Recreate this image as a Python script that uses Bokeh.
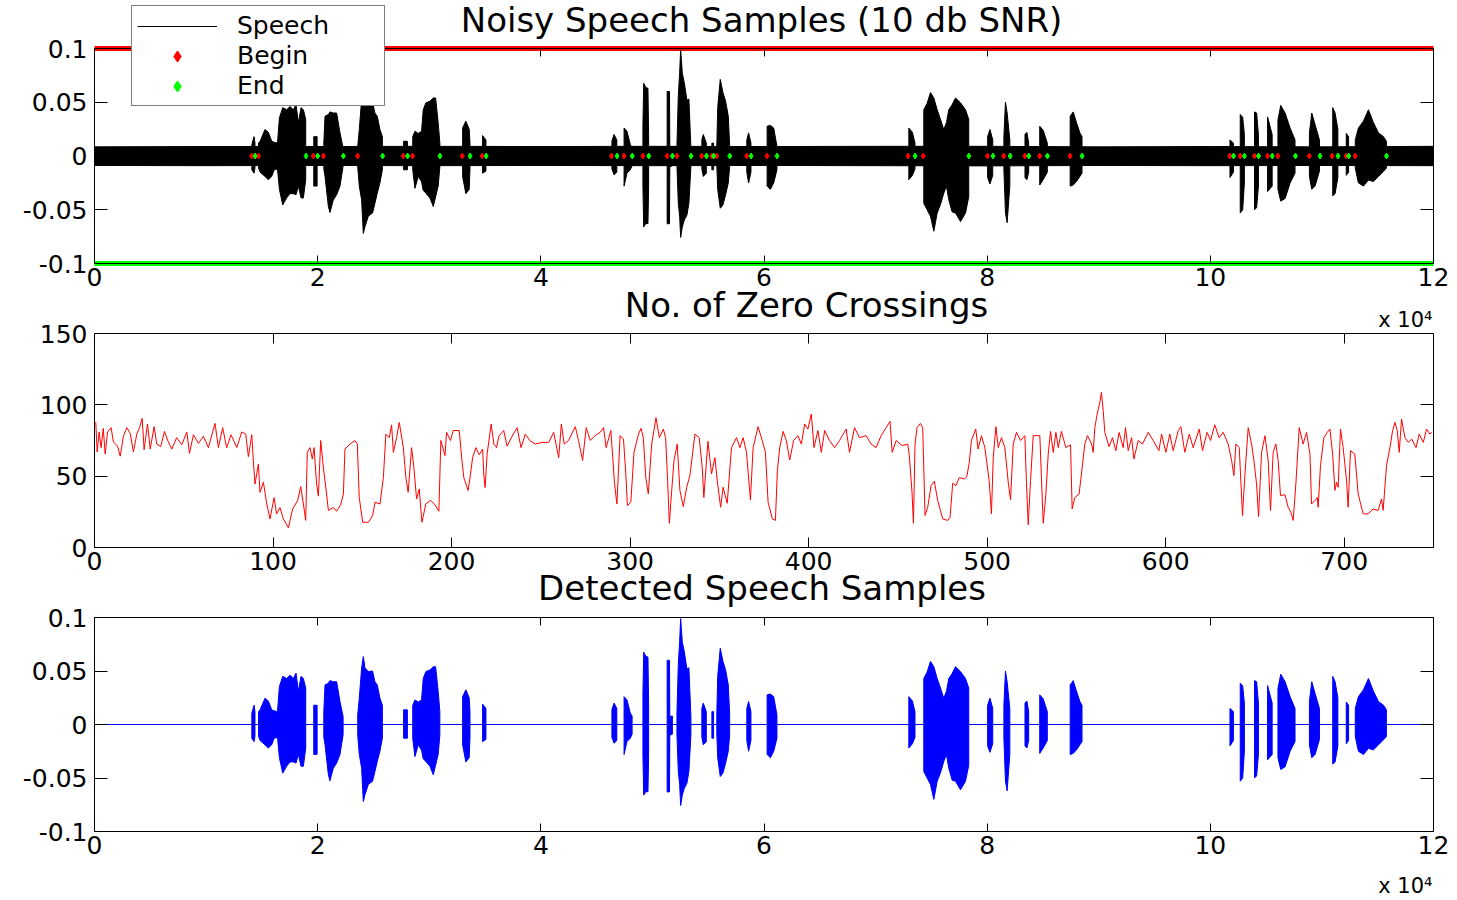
from bokeh.plotting import figure
from bokeh.models import Range1d, LinearAxis, FixedTicker, Legend, LegendItem, Label
from bokeh.embed import file_html
from bokeh.resources import INLINE

FONT = "DejaVu Sans"

# ---------------- data ----------------
seg_begin = [14090, 14690, 19610, 20510, 23580, 27670, 28510, 32960, 34750,
             46330, 47450, 49140, 51310, 52200, 54420, 55320, 55760, 58450, 60270,
             72900, 74270, 80030, 81480, 83380, 84700, 87430,
             101750, 102670, 103950, 105120, 106050, 108870, 110920, 112170, 112980]
seg_end = [14390, 18960, 20000, 22300, 25820, 28060, 30960, 33660, 35100,
           46830, 48190, 49670, 51800, 53460, 54840, 55490, 56930, 58840, 61170,
           73540, 78360, 80520, 82060, 83730, 85400, 88510,
           102080, 103055, 104320, 105550, 107630, 109830, 111440, 112400, 115790]

env_x = [14100, 14300, 14380,
         14700, 14840, 15280, 15580, 15880, 16090, 16400, 16570, 16870, 17220, 17520, 17820, 18060, 18270, 18510, 18720, 18930,
         19650, 19950,
         20550, 20660, 20960, 21100, 21400, 21700, 22000, 22280,
         23590, 23730, 23940, 24090, 24240, 24540, 24920, 25130, 25340, 25580, 25800,
         27700, 28040,
         28520, 28720, 29015, 29310, 29460, 29700, 30060, 30360, 30570, 30800, 30950,
         32990, 33280, 33580, 33650,
         34780, 35080,
         46370, 46560, 46810,
         47460, 47720, 48020, 48180,
         49150, 49220, 49420, 49600, 49660,
         51320, 51530, 51560, 51790,
         52200, 52320, 52440, 52530, 52680, 52860, 53090, 53270, 53450,
         54430, 54560, 54830,
         55330, 55480,
         55770, 55850, 56080, 56320, 56560, 56800, 56920,
         58460, 58620, 58830,
         60280, 60570, 60870, 61160,
         72980, 73300, 73530,
         74320, 74620, 74920, 75220, 75520, 75820, 76110, 76350, 76560, 76860, 77160, 77610, 78060, 78350,
         80040, 80250, 80500,
         81500, 81640, 81790, 82030,
         83390, 83560, 83720,
         84710, 85020, 85390,
         87440, 87710, 88010, 88310, 88500,
         101760, 102070,
         102680, 102900, 103050,
         103960, 104150, 104310,
         105130, 105540,
         106060, 106310, 106700, 107150, 107590,
         108880, 109090, 109390, 109780,
         110970, 111180, 111430,
         112180, 112390,
         112990, 113270, 113720, 114170, 114620, 115070, 115520, 115780]
env_hi = [0.0106, 0.018, 0.012,
          0.012, 0.0137, 0.0246, 0.022, 0.0137, 0.0128, 0.012, 0.0355, 0.045, 0.043, 0.046, 0.043, 0.048, 0.031, 0.045, 0.043, 0.034,
          0.018, 0.018,
          0.012, 0.037, 0.0386, 0.041, 0.040, 0.040, 0.0215, 0.0075,
          0.009, 0.0246, 0.0527, 0.0635, 0.053, 0.0495, 0.050, 0.040, 0.037, 0.0246, 0.018,
          0.0137, 0.0137,
          0.018, 0.023, 0.021, 0.023, 0.043, 0.0495, 0.051, 0.054, 0.054, 0.031, 0.012,
          0.026, 0.0324, 0.025, 0.012,
          0.019, 0.015,
          0.014, 0.020, 0.015,
          0.026, 0.023, 0.0106, 0.008,
          0.029, 0.0676, 0.0636, 0.063, 0.020,
          0.060, 0.060, 0.0075, 0.008,
          0.0106, 0.056, 0.0776, 0.099, 0.077, 0.068, 0.052, 0.053, 0.0075,
          0.015, 0.020, 0.012,
          0.012, 0.012,
          0.009, 0.045, 0.0713, 0.059, 0.051, 0.037, 0.010,
          0.015, 0.0215, 0.012,
          0.0277, 0.0285, 0.026, 0.009,
          0.026, 0.022, 0.012,
          0.043, 0.049, 0.059, 0.054, 0.043, 0.034, 0.0246, 0.031, 0.043, 0.0477, 0.054, 0.0495, 0.043, 0.034,
          0.018, 0.0246, 0.015,
          0.018, 0.050, 0.040, 0.015,
          0.020, 0.022, 0.012,
          0.0277, 0.024, 0.012,
          0.037, 0.041, 0.031, 0.0215, 0.018,
          0.015, 0.012,
          0.0386, 0.036, 0.020,
          0.041, 0.040, 0.020,
          0.0364, 0.020,
          0.0336, 0.047, 0.040, 0.026, 0.015,
          0.0215, 0.040, 0.029, 0.015,
          0.045, 0.040, 0.025,
          0.021, 0.018,
          0.015, 0.026, 0.0324, 0.043, 0.031, 0.0215, 0.018, 0.0137]
env_lo = [-0.0128, -0.016, -0.011,
          -0.011, -0.015, -0.019, -0.022, -0.019, -0.013, -0.012, -0.031, -0.0455, -0.039, -0.035, -0.035, -0.036, -0.028, -0.039, -0.039, -0.022,
          -0.028, -0.028,
          -0.012, -0.019, -0.047, -0.0526, -0.041, -0.036, -0.028, -0.0096,
          -0.010, -0.028, -0.041, -0.072, -0.0657, -0.056, -0.053, -0.044, -0.0346, -0.025, -0.0128,
          -0.0128, -0.0128,
          -0.013, -0.030, -0.019, -0.024, -0.032, -0.0346, -0.039, -0.047, -0.038, -0.028, -0.010,
          -0.019, -0.035, -0.031, -0.012,
          -0.016, -0.014,
          -0.012, -0.0175, -0.015,
          -0.028, -0.016, -0.0128, -0.009,
          -0.028, -0.066, -0.0626, -0.063, -0.028,
          -0.063, -0.063, -0.010, -0.009,
          -0.0097, -0.044, -0.056, -0.0757, -0.066, -0.0595, -0.055, -0.044, -0.0097,
          -0.012, -0.019, -0.016,
          -0.0128, -0.0128,
          -0.008, -0.031, -0.0486, -0.0455, -0.036, -0.025, -0.010,
          -0.015, -0.025, -0.015,
          -0.028, -0.031, -0.025, -0.0128,
          -0.022, -0.018, -0.012,
          -0.044, -0.050, -0.056, -0.070, -0.053, -0.045, -0.0346, -0.028, -0.0408, -0.052, -0.053, -0.061, -0.053, -0.038,
          -0.020, -0.026, -0.018,
          -0.0128, -0.053, -0.062, -0.028,
          -0.020, -0.022, -0.015,
          -0.027, -0.022, -0.015,
          -0.028, -0.027, -0.0237, -0.019, -0.0159,
          -0.020, -0.015,
          -0.053, -0.050, -0.025,
          -0.050, -0.048, -0.028,
          -0.033, -0.028,
          -0.031, -0.042, -0.0395, -0.025, -0.016,
          -0.019, -0.031, -0.028, -0.014,
          -0.037, -0.035, -0.020,
          -0.018, -0.015,
          -0.0112, -0.025, -0.028, -0.0224, -0.0237, -0.019, -0.0143, -0.0112]

noise_x = [0, 10000, 20000, 30000, 40000, 50000, 60000, 70000, 80000, 90000, 100000, 110000, 120000]
noise_hi = [0.0085, 0.0088, 0.0088, 0.009, 0.0088, 0.009, 0.0088, 0.009, 0.009, 0.0085, 0.0088, 0.0085, 0.009]
noise_lo = [-0.0088, -0.009, -0.0088, -0.009, -0.0088, -0.009, -0.0088, -0.009, -0.0092, -0.0088, -0.009, -0.0088, -0.009]

zc_frame = [0.7, 1.5, 2.6, 3.7, 4.9, 6, 7.3, 9.3, 10.6, 12.9, 14.4, 16.2, 18.1, 20, 21.8, 23.7, 25.2, 26.7, 27.8, 29.7,
            31.2, 33.4, 34.9, 37.1, 39.2, 41, 43.3, 46, 48.9, 51.7, 53.2, 55.4, 58.2, 61, 63.8, 67.5, 69.4, 71.8, 74, 76.5,
            79.7, 82.5, 84.7, 86.2, 88.1, 89, 89.9, 91.8, 92.7, 94.6, 96.5, 98.3, 100.6, 102, 103.9, 105.8, 108.6, 111, 113.8, 115.5,
            117, 118.3, 119.2, 120.7, 122, 123, 124.4, 125.4, 126.7, 128.2, 130, 131, 133.8, 135.6, 137.9, 139.4, 140.3, 143.1, 145.9, 147.2,
            148.3, 150.2, 153.4, 155.8, 157.1, 159.9, 161.8, 163.2, 165.1, 166.4, 167.4, 169.2, 170.7, 173, 174.4, 175.7, 177.6, 178.9, 180.4, 181.9,
            183.4, 185.6, 188.2, 190.7, 192.9, 194, 196.3, 197.2, 199.4, 200.9, 204.3, 205.8, 206.9, 209.3, 210.6, 211.8, 213.6, 215.5, 217.4, 218.1,
            218.8, 219.9, 222.2, 223.7, 225.2, 226.5, 229.2, 231.1, 233.9, 236.7, 238.9, 241.3, 243.8, 246.9, 250.7, 254.4, 257.2, 260, 261.5, 263.1,
            265.5, 269.3, 271.1, 273.4, 275.4, 277.7, 280.4, 283.2, 285.1, 286.6, 289.2, 290.3, 291.2, 292.6, 294.4, 296.3, 297.6, 298.5, 300.4, 302.2,
            304.7, 306.1, 307.4, 308.8, 310.2, 312.1, 314.5, 316.4, 318.6, 319.9, 321, 322, 323.3, 324.6, 326.4, 327.9, 329.8, 331.7, 333.5, 336.3,
            338.7, 340.4, 341.3, 343.6, 345.6, 347.5, 348.8, 350.7, 352.1, 354.4, 356.8, 359.6, 361.5, 363.3, 365.2, 367.4, 368.9, 371.7, 374, 375.8,
            377.3, 379.7, 381.4, 382.5, 383.8, 385.7, 387.5, 389.4, 391.6, 394, 395.9, 397.8, 399.6, 401.5, 403, 405.2, 407.1, 409, 411.7, 414.5,
            417.3, 421, 422.9, 425.7, 428.5, 432.2, 435, 437.8, 440.6, 443.4, 445.6, 446.8, 449, 452.4, 455.5, 456.4, 457.9, 458.7, 459.6, 460.7,
            462.6, 463.9, 465.2, 466.7, 468.6, 470.4, 472.3, 475.1, 477.9, 479.2, 480.7, 482.5, 484.4, 487.2, 488.6, 490, 491.2, 493.6, 494.9, 496.8,
            498.7, 501.1, 502.4, 503.4, 504.9, 506.2, 508, 509.9, 511.8, 513.1, 514.6, 516.4, 518.7, 521.1, 522, 523, 524.3, 525.8, 529.5, 530.4,
            531.4, 532.9, 534.2, 535.5, 537, 538.5, 539.8, 541.6, 544.1, 546.7, 547.6, 549.1, 551.5, 552.8, 554.7, 556.2, 558.5, 559.4, 560.3, 561.6,
            563.1, 564, 565, 565.9, 568.3, 570.2, 572.1, 573.9, 576.2, 577.5, 579, 580.9, 582.2, 584.6, 587, 590.2, 593, 596.2, 597.7, 600.1,
            602.3, 604.2, 607, 608.5, 610.7, 613.2, 615.4, 618.8, 620.6, 623.2, 625.1, 627.5, 629.9, 632.2, 635, 636.9, 638.2, 639.3, 641.2, 643,
            644.4, 646.2, 648.1, 649.4, 650.9, 652, 653.7, 655.6, 657.4, 658.7, 660.2, 661.7, 663, 664.3, 666.8, 668.6, 670.1, 671.4, 672.9, 674.8,
            677, 678.9, 680.8, 681.7, 683.6, 684.9, 685.4, 686.7, 688.6, 690.5, 692, 693.5, 694.8, 695.7, 696.6, 697.9, 699.4, 701.3, 702.2, 703.5,
            705.9, 707.8, 710.6, 713.4, 716.2, 719, 720.9, 721.8, 723.7, 725.6, 727.1, 728.4, 729.7, 730.8, 732.1, 734, 735.9, 737.8, 740.2, 742,
            744.3, 746.1, 748, 749]
zc_count = [88, 67, 81, 70, 83.5, 65.5, 81, 84, 74, 71, 64, 78, 84, 80, 67, 79.5, 84, 90.5, 68.6, 86.5,
            69, 84.7, 72.5, 70.7, 81.4, 75, 69, 77, 72, 81, 66, 79, 73, 78, 70, 87, 70, 84, 70, 79,
            70, 81, 79.5, 63.7, 79, 60, 44.5, 58.5, 38.7, 45.7, 30.5, 20, 35, 23.6, 28, 20, 13.8, 27, 33, 42.7,
            30.5, 19, 66.7, 70, 62, 70, 44.5, 36, 75, 56, 37.5, 26, 28, 25.4, 30, 37.5, 69, 72.5, 75, 72.5,
            35, 17.7, 17.7, 22.4, 31.7, 30.5, 49, 79.5, 77, 86, 66.7, 77, 87.7, 70, 49, 38.7, 70, 56, 34, 41,
            17.7, 30.5, 33, 30, 25.4, 75, 64.4, 80.7, 75, 82, 82, 61, 48.8, 40, 51.5, 63, 70, 65, 69, 50,
            42, 65.5, 86.5, 72.5, 70, 78, 82, 71, 78, 84, 70, 79.5, 75, 72.5, 73.7, 73.7, 80.7, 63, 86.5, 72.5,
            75, 84.7, 75, 61, 84, 75, 78.4, 80.7, 84, 70, 82, 63, 45.7, 30.5, 78.4, 76, 51.5, 29.4, 31.7, 66.7,
            79.5, 83.5, 77, 49, 37.5, 72.5, 91, 77, 83, 77, 47, 17, 40, 61, 72.5, 40, 28.7, 42.2, 50.4, 79.5,
            77, 56, 35, 74.4, 51.5, 63, 47, 28.2, 42.2, 31, 70, 77, 70, 77, 66.7, 33.4, 70, 84.7, 75, 66.7,
            31.7, 20, 19, 54, 70, 81.4, 75, 61.3, 75, 78.4, 72.5, 86.5, 83, 93.5, 70, 82, 66.7, 82, 75, 70,
            75, 83, 66.7, 84, 77, 78.4, 72.5, 70, 78.4, 84, 88.4, 66.7, 75, 71.4, 72.5, 64.4, 38.7, 17, 72.5, 84,
            87, 84, 22.4, 28.2, 43.4, 46.4, 33, 20, 19, 21, 45, 43.4, 49, 48, 49.7, 59.7, 75, 83, 69, 78.4,
            70, 47, 23.6, 63, 84.7, 70, 77, 70, 45.7, 33.4, 72.5, 80.7, 75, 78.4, 45.7, 16, 47, 78.4, 78.4, 49,
            17, 37.5, 65.5, 81.4, 66.7, 80.7, 70, 81.4, 70, 72, 27, 35, 37.5, 51.5, 72.5, 78.4, 72.5, 66.7, 84, 93.5,
            101.7, 108.7, 96, 80.7, 70.7, 77, 67.9, 80.7, 70, 84, 67.9, 77, 62, 75, 72.5, 80.7, 75, 67.9, 79.5, 66.7,
            79.5, 67.9, 81.9, 84.7, 66.7, 79.5, 70, 83, 67.9, 80.7, 75, 86, 77, 80.7, 72.5, 61, 50.4, 72.5, 70, 22.4,
            51.5, 84, 72.5, 61, 44.5, 21.7, 66.7, 78.4, 61, 25.9, 66.7, 72.5, 61, 36.4, 37, 28.2, 24.7, 19, 44.5, 84,
            72.5, 80.7, 65.5, 30.5, 33, 35, 28.2, 57.4, 77, 80.7, 83, 65.5, 40, 45.7, 42.2, 83, 70, 47, 28.2, 67.9,
            65.5, 37.5, 23.6, 23.6, 27, 26, 34, 26, 57.4, 70, 82, 87.7, 82, 66.7, 90, 77, 73.7, 76, 70, 79.5,
            73.7, 83, 79.5, 80.7]

x1_ticks = [0, 20000, 40000, 60000, 80000, 100000, 120000]
x1_labels = ["0", "2", "4", "6", "8", "10", "12"]
y1_ticks = [-0.1, -0.05, 0, 0.05, 0.1]
y1_labels = ["-0.1", "-0.05", "0", "0.05", "0.1"]
x2_ticks = [0, 100, 200, 300, 400, 500, 600, 700]
y2_ticks = [0, 50, 100, 150]
X1 = (0, 120000)
Y1 = (-0.1, 0.1)
X2 = (0, 750)
Y2 = (0, 150)

# ---------------- layout (page pixels) ----------------
W, H = 1449, 900
BOX_L, BOX_R = 94, 1433
BOX1 = (48, 263)     # plot-box top / bottom of each panel
BOX2 = (333, 547)
BOX3 = (617, 831)
TITLE_SIZE = 34
TICK_SIZE = "25px"


def x_range_for(xr):
    xpp = (xr[1] - xr[0]) / (BOX_R - BOX_L)
    return Range1d(xr[0] - BOX_L * xpp, xr[1] + (W - BOX_R) * xpp), xpp


def y_range_for(yr, box):
    ypp = (yr[1] - yr[0]) / (box[1] - box[0])
    return Range1d(yr[0] - (H - box[1]) * ypp, yr[1] + box[0] * ypp), ypp


xr1, xpp1 = x_range_for(X1)
xr2, xpp2 = x_range_for(X2)
yr1, ypp1 = y_range_for(Y1, BOX1)
yr2, ypp2 = y_range_for(Y2, BOX2)
yr3, ypp3 = y_range_for(Y1, BOX3)

p = figure(width=W, height=H, x_range=xr1, y_range=yr1,
           x_axis_location=None, y_axis_location=None,
           output_backend="svg", toolbar_location=None,
           min_border_left=0, min_border_right=0, min_border_top=0, min_border_bottom=0)
p.extra_x_ranges = {"x2": xr2}
p.extra_y_ranges = {"y2": yr2, "y3": yr3}
p.grid.visible = False
p.outline_line_color = None
p.background_fill_color = "white"
p.border_fill_color = "white"


def style_axis(ax, ticks, labels, tick_in, show_labels):
    ax.axis_line_color = "black"
    ax.axis_line_width = 1
    ax.major_tick_line_color = "black"
    ax.major_tick_in = tick_in
    ax.major_tick_out = 0
    ax.minor_tick_line_color = None
    ax.ticker = FixedTicker(ticks=ticks)
    ax.major_label_text_font = FONT
    ax.major_label_text_font_size = TICK_SIZE
    ax.major_label_text_color = "black"
    if show_labels:
        ax.major_label_overrides = {t: l for t, l in zip(ticks, labels)}
    else:
        ax.major_label_overrides = {t: "" for t in ticks}
        ax.major_label_standoff = 0


def box_axes(xname, yname, xr, yr, xticks, xlabels, yticks, ylabels, xin, yin):
    kw = dict(x_range_name=xname, y_range_name=yname)
    bottom = LinearAxis(fixed_location=yr[0], bounds=xr, major_label_standoff=4, **kw)
    top = LinearAxis(fixed_location=yr[1], bounds=xr, **kw)
    left = LinearAxis(fixed_location=xr[0], bounds=yr, major_label_standoff=7, **kw)
    right = LinearAxis(fixed_location=xr[1], bounds=yr, **kw)
    style_axis(bottom, xticks, xlabels, xin, True)
    style_axis(top, xticks, xlabels, xin, False)
    style_axis(left, yticks, ylabels, yin, True)
    style_axis(right, yticks, ylabels, yin, False)
    p.add_layout(bottom, "below")
    p.add_layout(top, "above")
    p.add_layout(left, "left")
    p.add_layout(right, "right")


def add_label(x, y, text, size, align="center", xname="default", yname="default"):
    p.add_layout(Label(x=x, y=y, text=text, text_font=FONT, text_font_size="%dpx" % size,
                       text_color="black", text_align=align, text_baseline="alphabetic",
                       x_range_name=xname, y_range_name=yname))


def base_shift(size):
    # the rendered baseline sits this many px below the anchor
    return 0.38 * size


def segment_polys():
    xs, ys = [], []
    for b, e in zip(seg_begin, seg_end):
        idx = [i for i, x in enumerate(env_x) if b <= x <= e]
        px = [env_x[i] for i in idx]
        xs.append(px + px[::-1])
        ys.append([env_hi[i] for i in idx] + [env_lo[i] for i in idx][::-1])
    return xs, ys


poly_xs, poly_ys = segment_polys()

# ---------------- panel 1: noisy speech ----------------
p.segment(x0=[X1[0]], y0=[Y1[1]], x1=[X1[1]], y1=[Y1[1]], line_color="#ff0000", line_width=5, level="underlay")
p.segment(x0=[X1[0]], y0=[Y1[0]], x1=[X1[1]], y1=[Y1[0]], line_color="#00ff00", line_width=5, level="underlay")
p.varea(x=noise_x, y1=noise_lo, y2=noise_hi, fill_color="black")
r_speech = p.line(noise_x, noise_hi, line_color="black", line_width=1)
p.line(noise_x, noise_lo, line_color="black", line_width=1)
p.patches(poly_xs, poly_ys, fill_color="black", line_color="black", line_width=1)
r_begin = p.scatter(seg_begin, [0] * len(seg_begin), marker="diamond", size=6,
                    fill_color="#ff0000", line_color="#ff0000")
r_end = p.scatter(seg_end, [0] * len(seg_end), marker="diamond", size=6,
                  fill_color="#00ff00", line_color="#00ff00")
box_axes("default", "default", X1, Y1, x1_ticks, x1_labels, y1_ticks, y1_labels, 8, 13)
legend = Legend(items=[LegendItem(label="Speech", renderers=[r_speech]),
                       LegendItem(label="Begin", renderers=[r_begin]),
                       LegendItem(label="End", renderers=[r_end])],
                location=(131, H - 106),
                border_line_color="black", border_line_width=1,
                background_fill_color="white", background_fill_alpha=1.0,
                label_text_font=FONT, label_text_font_size="25px", label_text_color="black",
                glyph_width=80, glyph_height=28, label_height=28, label_width=142,
                label_standoff=20, padding=5, spacing=1, margin=0)
p.add_layout(legend)
add_label(X1[0] + (761 - BOX_L) * xpp1, Y1[1] + (16 + base_shift(TITLE_SIZE)) * ypp1,
          "Noisy Speech Samples (10 db SNR)", TITLE_SIZE)

# ---------------- panel 2: zero crossings ----------------
p.line(zc_frame, zc_count, line_color="#ff0000", line_width=1, x_range_name="x2", y_range_name="y2")
box_axes("x2", "y2", X2, Y2, x2_ticks, [str(t) for t in x2_ticks], y2_ticks, [str(t) for t in y2_ticks], 10, 13)
add_label(X2[0] + (806 - BOX_L) * xpp2, Y2[1] + (16 + base_shift(TITLE_SIZE)) * ypp2,
          "No. of Zero Crossings", TITLE_SIZE, xname="x2", yname="y2")
add_label(X2[1] - 1 * xpp2, Y2[1] + (6 + base_shift(21)) * ypp2, "x 10\u2074", 21, "right",
          xname="x2", yname="y2")

# ---------------- panel 3: detected speech ----------------
p.segment(x0=[X1[0]], y0=[0], x1=[X1[1]], y1=[0], line_color="#0000ff", line_width=1, y_range_name="y3")
p.patches(poly_xs, poly_ys, fill_color="#0000ff", line_color="#0000ff", line_width=1, y_range_name="y3")
box_axes("default", "y3", X1, Y1, x1_ticks, x1_labels, y1_ticks, y1_labels, 8, 13)
add_label(X1[0] + (761.5 - BOX_L) * xpp1, Y1[1] + (17 + base_shift(TITLE_SIZE)) * ypp3,
          "Detected Speech Samples", TITLE_SIZE, yname="y3")
add_label(X1[1] - 1 * xpp1, Y1[0] - (62 - base_shift(21)) * ypp3, "x 10\u2074", 21, "right", yname="y3")

open("out.html", "w").write(file_html(p, INLINE))
